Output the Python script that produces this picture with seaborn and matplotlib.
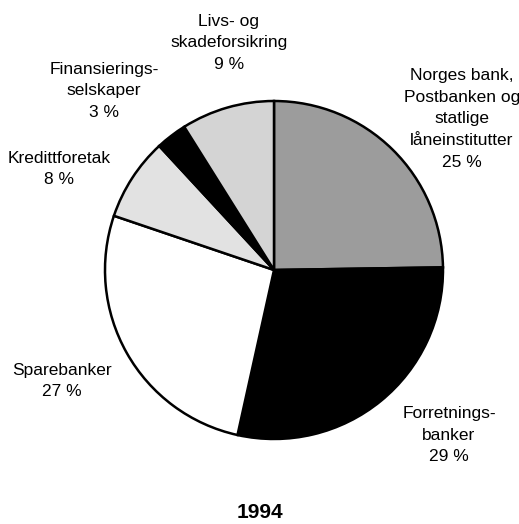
import matplotlib
matplotlib.use("Agg")
import matplotlib.pyplot as plt
import seaborn as sns

sns.set_theme(style="white")
plt.rcParams['font.family'] = ['Liberation Sans', 'DejaVu Sans']

categories = ["Norges bank,\nPostbanken og\nstatlige\nlåneinstitutter",
              "Forretnings-\nbanker",
              "Sparebanker",
              "Kredittforetak",
              "Finansierings-\nselskaper",
              "Livs- og\nskadeforsikring"]
values = [25, 29, 27, 8, 3, 9]
colors = ["#9c9c9c", "#000000", "#ffffff", "#e2e2e2", "#000000", "#d4d4d4"]
# label anchor positions (pixels, y from top)
label_pos = [(462, 119), (449, 435), (62, 381), (59, 169), (104, 91), (229, 43)]
title = "1994"

W, H = 519, 524
fig = plt.figure(figsize=(W / 100, H / 100), dpi=100)
ax = fig.add_axes([0, 0, 1, 1])

ax.pie(values, colors=colors, startangle=90, counterclock=False,
       center=(274, H - 270), radius=169, frame=True,
       wedgeprops=dict(edgecolor="black", linewidth=1.8))
ax.set_xlim(0, W)
ax.set_ylim(0, H)
ax.set_aspect("equal")
ax.axis("off")

for cat, v, (x, y) in zip(categories, values, label_pos):
    ax.text(x, H - y, f"{cat}\n{v} %", ha="center", va="center",
            fontsize=12.5, linespacing=1.55, color="black")

ax.text(260, H - 512, title, ha="center", va="center", fontsize=15,
        fontweight="bold", color="black")

fig.savefig("out.png", dpi=100)
